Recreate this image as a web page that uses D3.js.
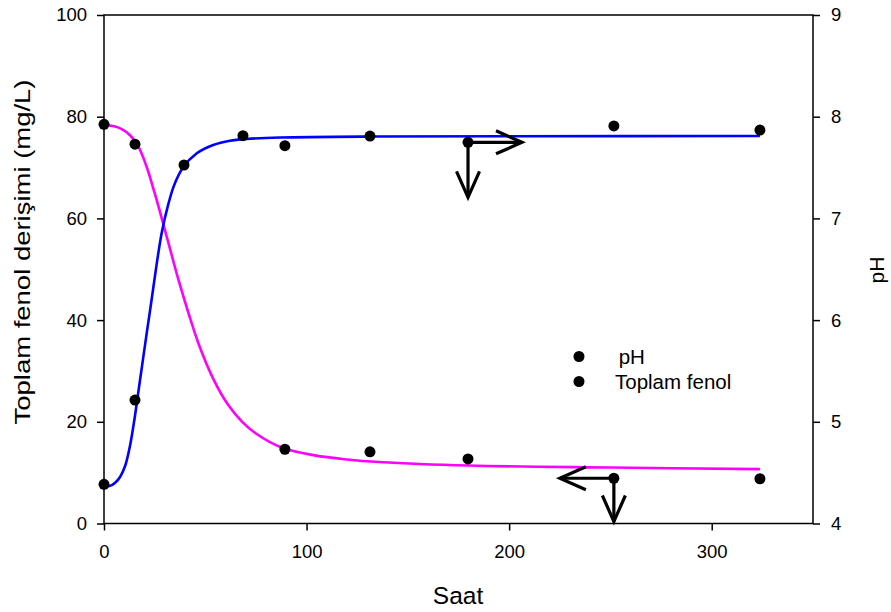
<!DOCTYPE html>
<html>
<head>
<meta charset="utf-8">
<script src="https://cdn.jsdelivr.net/npm/d3@7"></script>
<style>
  body { margin: 0; background: #fff; }
  svg { display: block; }
  text { font-family: "Liberation Sans", Arial, sans-serif; fill: #000; }
</style>
</head>
<body>
<svg width="891" height="612"></svg>
<script>
// measured points (hours)
var ph_time = [0, 15.3, 39.5, 68.6, 89.3, 131.3, 179.7, 251.7, 323.8];
var ph_vals = [4.385, 5.214, 7.525, 7.813, 7.715, 7.81, 7.748, 7.909, 7.869];
var fenol_time = [0, 15.3, 89.3, 131.3, 179.7, 251.7, 323.8];
var fenol_vals = [78.5, 74.6, 14.6, 14.1, 12.7, 8.9, 8.8];

// fitted curves
var ph_curve_t = [0, 3, 5.5, 8, 10.5, 12.8, 15, 17, 19, 21, 23.5, 26, 28.5, 31.5, 34.5, 39, 45.8, 53.9, 62.2, 70.4, 86.9, 131.3, 200, 323.8];
var ph_curve_v = [4.36, 4.37, 4.40, 4.46, 4.57, 4.76, 5.02, 5.30, 5.58, 5.86, 6.20, 6.55, 6.86, 7.12, 7.32, 7.50, 7.64, 7.722, 7.764, 7.781, 7.795, 7.805, 7.808, 7.81];
var fenol_curve_t = [0, 5, 9, 13, 17, 21, 25, 29, 33, 37, 42, 47, 54, 61, 68, 75, 88, 104, 120, 136, 180, 250, 323.8];
var fenol_curve_v = [78.4, 78.1, 77.5, 76.3, 74.1, 70.2, 65.0, 59.3, 53.4, 47.6, 41.0, 35.0, 28.4, 23.5, 20.1, 17.7, 14.9, 13.4, 12.6, 12.1, 11.4, 11.0, 10.7];

var x_ticks = [0, 100, 200, 300];
var left_ticks = [0, 20, 40, 60, 80, 100];
var right_ticks = [4, 5, 6, 7, 8, 9];

var svg = d3.select("svg");
var p_left = 104, p_right = 813, p_top = 15, p_bottom = 523.5;

var x = d3.scaleLinear().domain([0, 350]).range([p_left, p_right]);
var yL = d3.scaleLinear().domain([0, 100]).range([p_bottom, p_top]);
var yR = d3.scaleLinear().domain([4, 9]).range([p_bottom, p_top]);

// frame
svg.append("rect")
  .attr("x", p_left).attr("y", p_top)
  .attr("width", p_right-p_left).attr("height", p_bottom-p_top)
  .style("fill", "none").style("stroke", "#000").style("stroke-width", 1.5);

var xAxis = svg.append("g")
  .attr("transform", "translate(0," + p_bottom + ")")
  .call(d3.axisBottom(x).tickValues(x_ticks).tickSize(7).tickPadding(14));
var lAxis = svg.append("g")
  .attr("transform", "translate(" + p_left + ",0)")
  .call(d3.axisLeft(yL).tickValues(left_ticks).tickSize(7).tickPadding(10));
var rAxis = svg.append("g")
  .attr("transform", "translate(" + p_right + ",0)")
  .call(d3.axisRight(yR).tickValues(right_ticks).tickFormat(d3.format("d")).tickSize(7).tickPadding(11));

[xAxis, lAxis, rAxis].forEach(function(a){
  a.select(".domain").remove();
  a.selectAll(".tick line").style("stroke", "#000").style("stroke-width", 1.5);
  a.selectAll(".tick text").style("font-size", "18.5px")
    .style("font-family", "'Liberation Sans', Arial, sans-serif").style("fill", "#000");
});

// axis titles
svg.append("text")
  .attr("x", (p_left+p_right)/2 - 0.5).attr("y", 604)
  .attr("text-anchor", "middle").style("font-size", "24.5px").text("Saat");
svg.append("text")
  .attr("transform", "translate(30,252) rotate(-90)")
  .attr("text-anchor", "middle").style("font-size", "22px")
  .attr("textLength", 345).attr("lengthAdjust", "spacingAndGlyphs")
  .text("Toplam fenol derişimi (mg/L)");
svg.append("text")
  .attr("transform", "translate(884,270) rotate(-90)")
  .attr("text-anchor", "middle").style("font-size", "21px").text("pH");

// curves
var ph_line = d3.line().curve(d3.curveCatmullRom.alpha(0.5))
  .x(function(d, i){ return x(ph_curve_t[i]); })
  .y(function(d){ return yR(d); });
var fenol_line = d3.line().curve(d3.curveCatmullRom.alpha(0.5))
  .x(function(d, i){ return x(fenol_curve_t[i]); })
  .y(function(d){ return yL(d); });

svg.append("path").attr("d", fenol_line(fenol_curve_v))
  .style("fill", "none").style("stroke", "#ff00ff").style("stroke-width", 2.6);
svg.append("path").attr("d", ph_line(ph_curve_v))
  .style("fill", "none").style("stroke", "#0000ff").style("stroke-width", 2.6);

// points
svg.selectAll("circle.ph").data(ph_vals).enter().append("circle")
  .attr("class", "ph").attr("r", 5.5)
  .attr("cx", function(d, i){ return x(ph_time[i]); })
  .attr("cy", function(d){ return yR(d); })
  .style("fill", "#000");
svg.selectAll("circle.fenol").data(fenol_vals).enter().append("circle")
  .attr("class", "fenol").attr("r", 5.5)
  .attr("cx", function(d, i){ return x(fenol_time[i]); })
  .attr("cy", function(d){ return yL(d); })
  .style("fill", "#000");

// arrows showing which axis each curve belongs to
function arrow(x0, y0, dx, dy)
{
  var x1 = x0 + dx, y1 = y0 + dy;
  var len = Math.sqrt(dx*dx + dy*dy);
  var ux = dx/len, uy = dy/len;
  var back = 26, spread = 11.5;
  var g = svg.append("g").style("stroke", "#000").style("stroke-width", 3.2)
    .style("fill", "none").style("stroke-linecap", "butt");
  g.append("line").attr("x1", x0).attr("y1", y0).attr("x2", x1).attr("y2", y1);
  g.append("polyline").attr("points", [
    [x1 - ux*back - uy*spread, y1 - uy*back + ux*spread],
    [x1, y1],
    [x1 - ux*back + uy*spread, y1 - uy*back - ux*spread]].map(function(p){ return p.join(","); }).join(" "));
}
var ax = x(ph_time[6]), ay = yR(ph_vals[6]);
arrow(ax, ay, 54, 0);
arrow(ax, ay, 0, 55);
var bx = x(fenol_time[5]), by = yL(fenol_vals[5]);
arrow(bx, by, -54, 0);
arrow(bx, by, 0, p_bottom - 2 - by);

// legend
var legend_labels = [" pH", "Toplam fenol"];
var lg = svg.append("g");
lg.selectAll("circle").data(legend_labels).enter().append("circle")
  .attr("cx", 579).attr("cy", function(d, i){ return 356.5 + i*25; })
  .attr("r", 5.5).style("fill", "#000");
lg.selectAll("text").data(legend_labels).enter().append("text")
  .attr("x", function(d, i){ return i == 0 ? 613 : 615; })
  .attr("y", function(d, i){ return 363.5 + i*25; })
  .style("font-size", "20.5px")
  .attr("xml:space", "preserve")
  .text(function(d){ return d; });
</script>
</body>
</html>
